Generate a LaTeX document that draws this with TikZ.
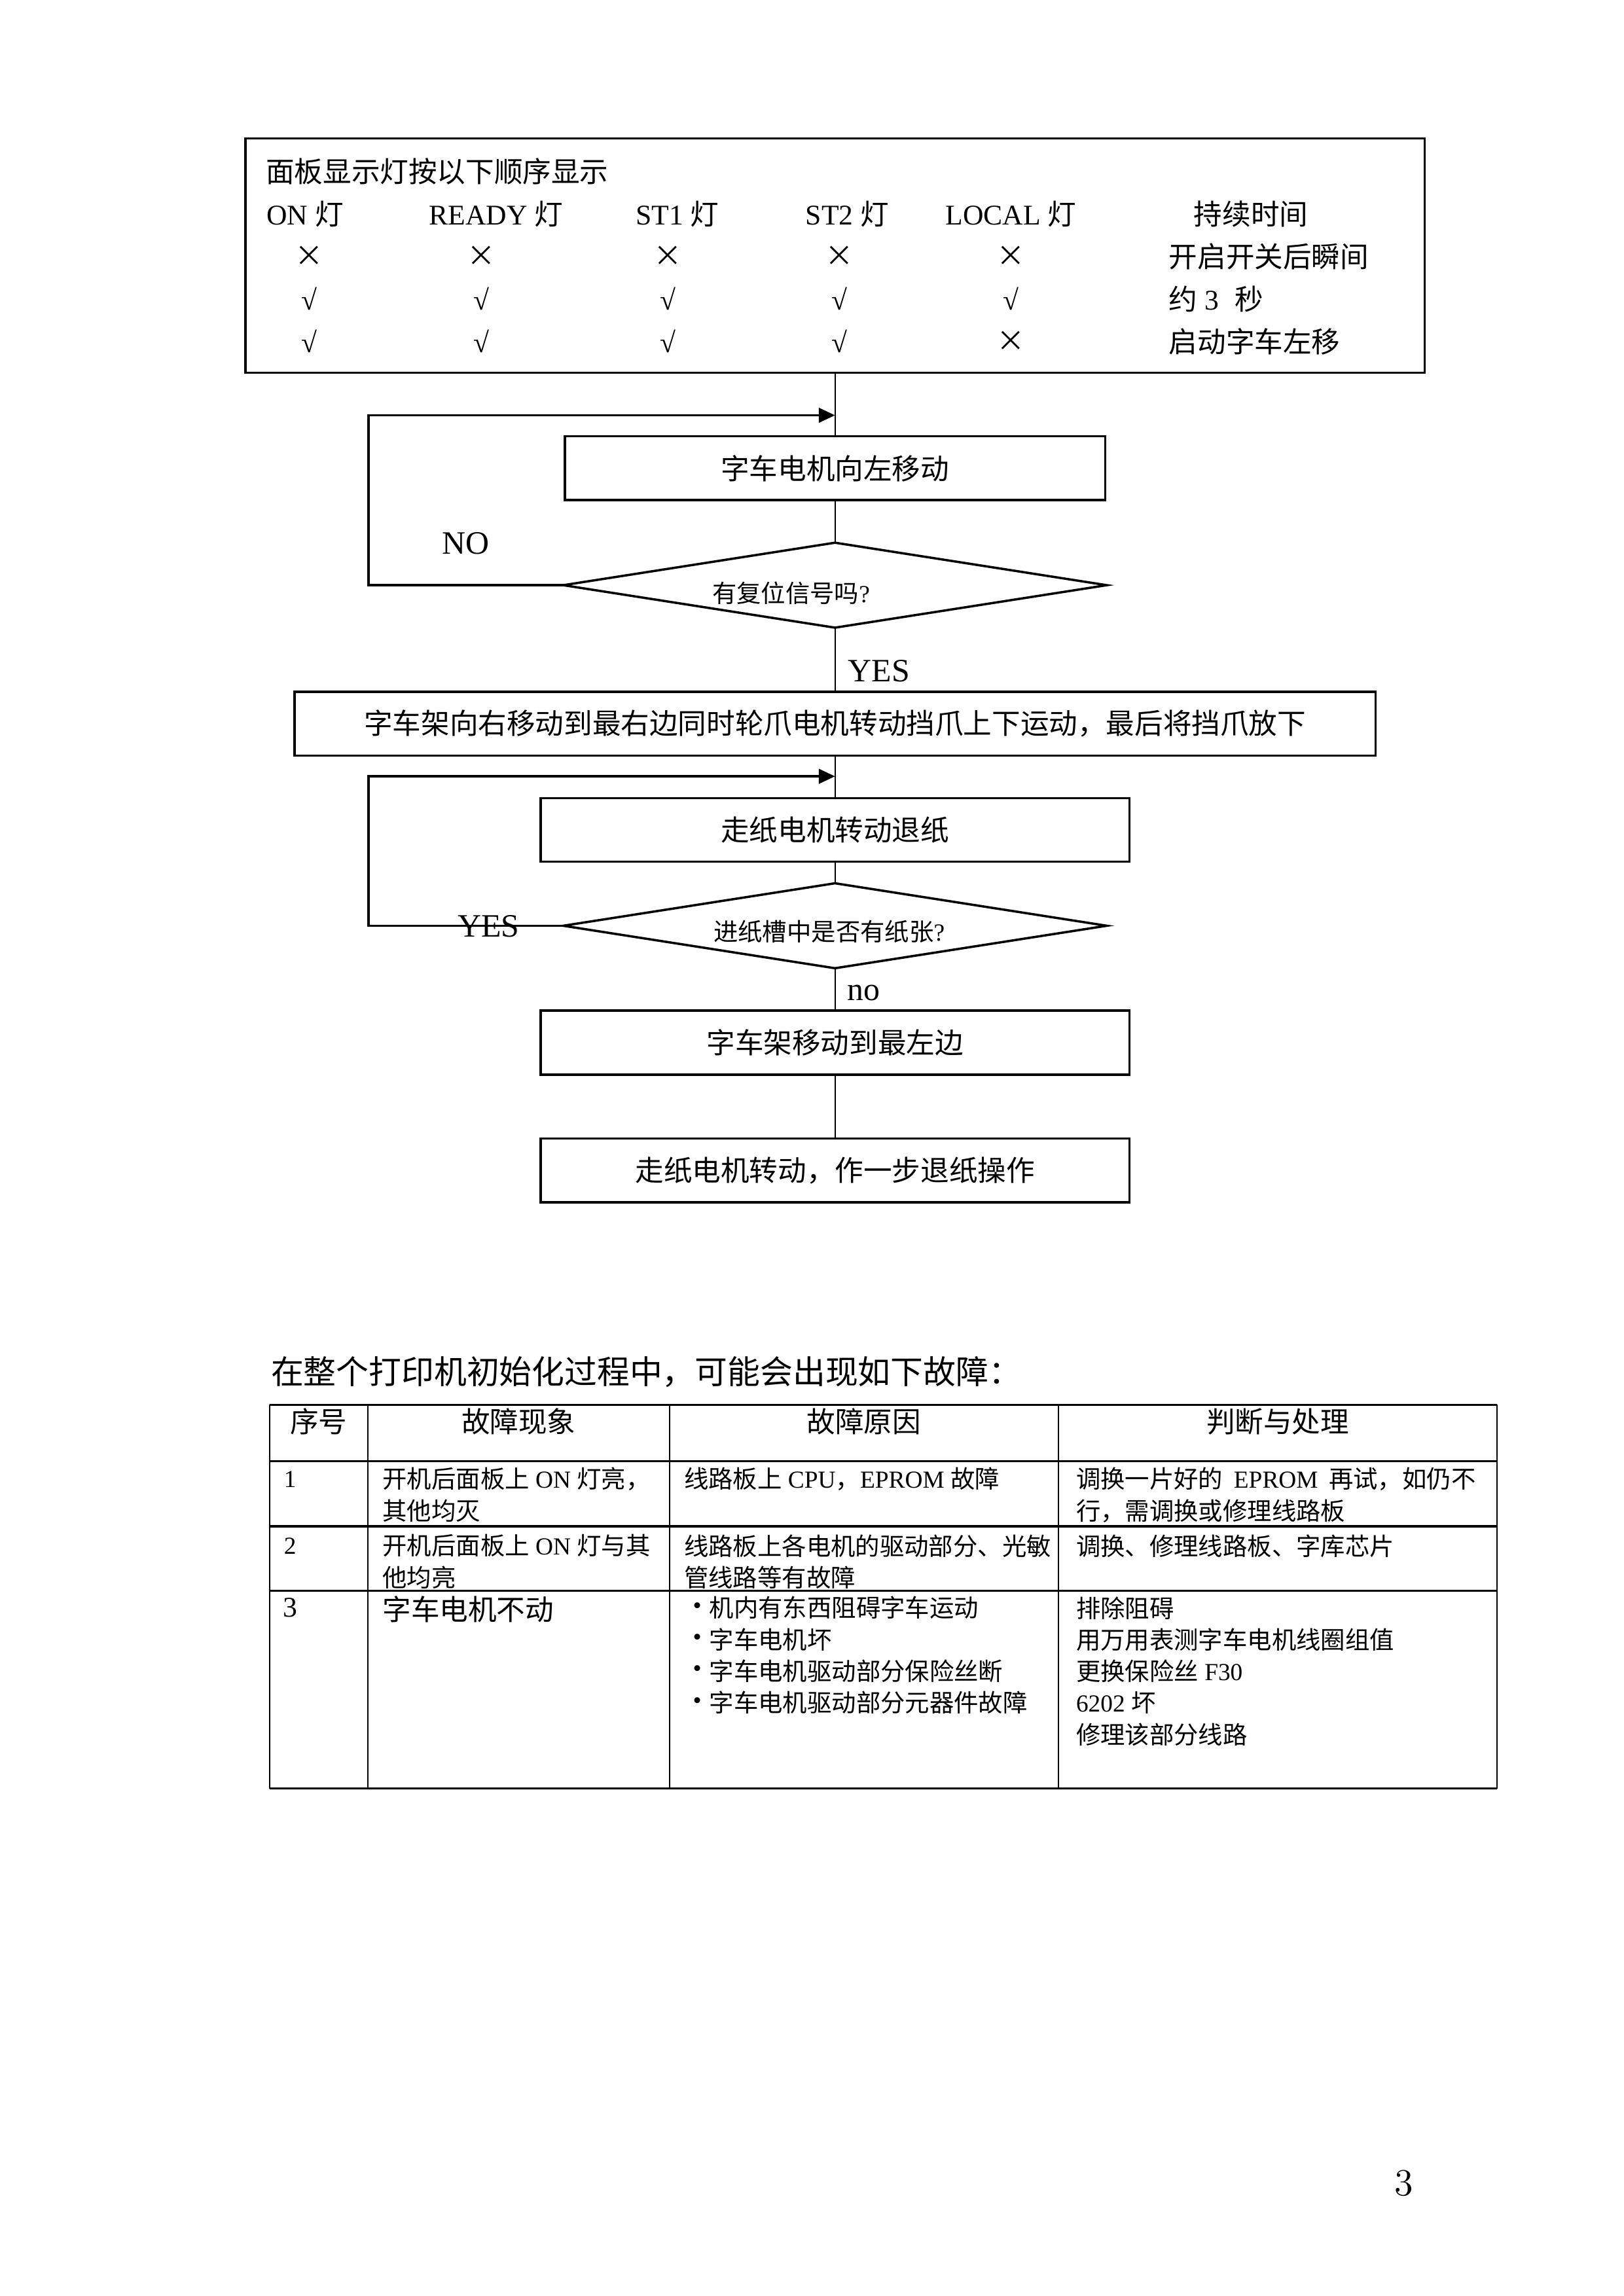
\documentclass[tikz,border=0pt]{standalone}
\usepackage{fontspec}
\newfontfamily\zhf{Noto Sans CJK SC}
\newfontfamily\tms{Liberation Serif}
\newcommand\zh[1]{{\zhf #1}}
\newcommand\fs[1]{\tms\fontsize{#1}{#1}\selectfont}
\usetikzlibrary{shapes.geometric,arrows.meta}
\def\uu{0.18943mm}
\begin{document}
\begin{tikzpicture}[x=\uu,y=-\uu,
  fbox/.style={draw,line width=0.85pt,rectangle,inner sep=0pt,outer sep=0pt,font=\fs{10.5}},
  fdia/.style={draw,line width=0.85pt,diamond,inner sep=0pt,outer sep=0pt,minimum width={371*\uu},minimum height={58*\uu}},
  txt/.style={inner sep=0pt,outer sep=0pt,font=\fs{10.5}},
  sm/.style={txt,font=\fs{9}},
  big/.style={txt,font=\fs{12}},
  conn/.style={line width=0.55pt},
  loopline/.style={line width=0.8pt},
  arr/.style={-{Triangle[length=2.1mm,width=1.9mm]}},
  hrule/.style={line width=0.8pt},
  vrule/.style={line width=0.5pt}]
\fill[white] (0,0) rectangle (1108.58,1567.47);
\useasboundingbox (0,0) rectangle (1108.58,1567.47);

% ---------- top panel ----------
\node[fbox,minimum width={805*\uu},minimum height={159.8*\uu}] (panel) at (570,174.5) {};
\node[txt,anchor=west] (ptitle) at (181.5,117) {\zh{面板显示灯按以下顺序显示}};
\node[txt,anchor=west] (hon) at (182,146) {ON \zh{灯}};
\node[txt,anchor=west] (hready) at (293,146) {READY \zh{灯}};
\node[txt,anchor=west] (hst1) at (434,146) {ST1 \zh{灯}};
\node[txt,anchor=west] (hst2) at (550,146) {ST2 \zh{灯}};
\node[txt,anchor=west] (hlocal) at (645.5,146) {LOCAL \zh{灯}};
\node[txt,anchor=west] (htime) at (815,146) {\zh{持续时间}};
\foreach \x [count=\i] in {211,328.5,456,573,690}
  \node[txt] (ra\i) at (\x,175) {\zh{×}};
\foreach \x [count=\i] in {211,328.5,456,573,690}
  \node[txt] (rb\i) at (\x,204) {√};
\foreach \x [count=\i] in {211,328.5,456,573}
  \node[txt] (rc\i) at (\x,233) {√};
\node[txt] (rc5) at (690,233) {\zh{×}};
\node[txt,anchor=west] (ta) at (798,175) {\zh{开启开关后瞬间}};
\node[txt,anchor=west] (tb) at (798,204) {\zh{约} 3\hspace{0.55em}\zh{秒}};
\node[txt,anchor=west] (tc) at (798,233) {\zh{启动字车左移}};

% ---------- flow chart ----------
\node[fbox,minimum width={369*\uu},minimum height={43.5*\uu}] (b1) at (570,319.65) {\zh{字车电机向左移动}};
\node[fdia] (d1) at (570,399.5) {};
\node[sm] (d1t) at (540,405) {\zh{有复位信号吗}?};
\node[fbox,minimum width={738*\uu},minimum height={43.6*\uu}] (b2) at (570,494)
  {\zh{字车架向右移动到最右边同时轮爪电机转动挡爪上下运动，最后将挡爪放下}};
\node[fbox,minimum width={402*\uu},minimum height={43.5*\uu}] (b3) at (570,566.55) {\zh{走纸电机转动退纸}};
\node[fdia] (d2) at (570,632) {};
\node[sm] (d2t) at (566,636) {\zh{进纸槽中是否有纸张}?};
\node[fbox,minimum width={402*\uu},minimum height={43.6*\uu}] (b4) at (570,711.8) {\zh{字车架移动到最左边}};
\node[fbox,minimum width={402*\uu},minimum height={43.5*\uu}] (b5) at (570,798.95) {\zh{走纸电机转动，作一步退纸操作}};

\coordinate (j1) at (570,283.5);
\coordinate (k1) at (251.5,283.5);
\coordinate (j2) at (570,530);
\coordinate (k2) at (251.5,530);

\draw[conn] (panel.south) -- (b1.north);
\draw[conn] (b1.south) -- (d1.north);
\draw[conn] (d1.south) -- (b2.north);
\draw[conn] (b2.south) -- (b3.north);
\draw[conn] (b3.south) -- (d2.north);
\draw[conn] (d2.south) -- (b4.north);
\draw[conn] (b4.south) -- (b5.north);
\draw[loopline,arr] (d1.west) -| (k1) -- (j1);
\draw[loopline,arr] (d2.west) -| (k2) -- (j2);

\node[big] (lno) at (318,371) {NO};
\node[big] (lyes1) at (600,458) {YES};
\node[big] (lyes2) at (333.5,632.5) {YES};
\node[big] (lno2) at (589.5,678) {no};

% ---------- fault table ----------
\node[big,anchor=west] (heading) at (185,936.8) {\zh{在整个打印机初始化过程中，可能会出现如下故障：}};

\foreach \y in {959,997.6,1042,1086,1221}
  \draw[hrule] (184,\y) -- (1022,\y);
\foreach \x in {184,251,457,722.5,1022}
  \draw[vrule] (\x,959) -- (\x,1221);

\node[txt] (th1) at (217.5,970.5) {\zh{序号}};
\node[txt] (th2) at (354,970.5) {\zh{故障现象}};
\node[txt] (th3) at (589.75,970.5) {\zh{故障原因}};
\node[txt] (th4) at (872.25,970.5) {\zh{判断与处理}};

\node[sm] (n1) at (198,1009.8) {1};
\node[sm,anchor=west] (a1a) at (261.2,1009.8) {\zh{开机后面板上} ON \zh{灯亮，}};
\node[sm,anchor=west] (a1b) at (261.2,1031.4) {\zh{其他均灭}};
\node[sm,anchor=west] (b1a) at (467,1009.8) {\zh{线路板上} CPU\zh{，}EPROM \zh{故障}};
\node[sm,anchor=west] (c1a) at (734.6,1009.8) {\makebox[147pt][s]{\zh{调换一片好的} EPROM \zh{再试，如仍不}}};
\node[sm,anchor=west] (c1b) at (734.6,1031.4) {\zh{行，需调换或修理线路板}};

\node[sm] (n2) at (198,1055.3) {2};
\node[sm,anchor=west] (a2a) at (261.2,1055.3) {\zh{开机后面板上} ON \zh{灯与其}};
\node[sm,anchor=west] (a2b) at (261.2,1076.9) {\zh{他均亮}};
\node[sm,anchor=west] (b2a) at (467,1055.3) {\zh{线路板上各电机的驱动部分、光敏}};
\node[sm,anchor=west] (b2b) at (467,1076.9) {\zh{管线路等有故障}};
\node[sm,anchor=west] (c2a) at (734.6,1055.3) {\zh{调换、修理线路板、字库芯片}};

\node[txt] (n3) at (198,1097.7) {3};
\node[txt,anchor=west] (a3a) at (261.2,1098.5) {\zh{字车电机不动}};
\foreach \y/\s [count=\i] in {1097.7/机内有东西阻碍字车运动,1119.3/字车电机坏,1140.9/字车电机驱动部分保险丝断,1162.5/字车电机驱动部分元器件故障}{
  \node[sm] (bu\i) at (475.9,\y) {•};
  \node[sm,anchor=west] (b3\i) at (484.3,\y) {\zh{\s}};
}
\node[sm,anchor=west] (c3a) at (734.6,1097.7) {\zh{排除阻碍}};
\node[sm,anchor=west] (c3b) at (734.6,1119.3) {\zh{用万用表测字车电机线圈组值}};
\node[sm,anchor=west] (c3c) at (734.6,1140.9) {\zh{更换保险丝} F30};
\node[sm,anchor=west] (c3d) at (734.6,1162.5) {6202 \zh{坏}};
\node[sm,anchor=west] (c3e) at (734.6,1184.1) {\zh{修理该部分线路}};

% ---------- page number ----------
\node[inner sep=0pt,font=\fontsize{14}{14}\selectfont] (pgnum) at (958.4,1490.5) {3};
\end{tikzpicture}
\end{document}
